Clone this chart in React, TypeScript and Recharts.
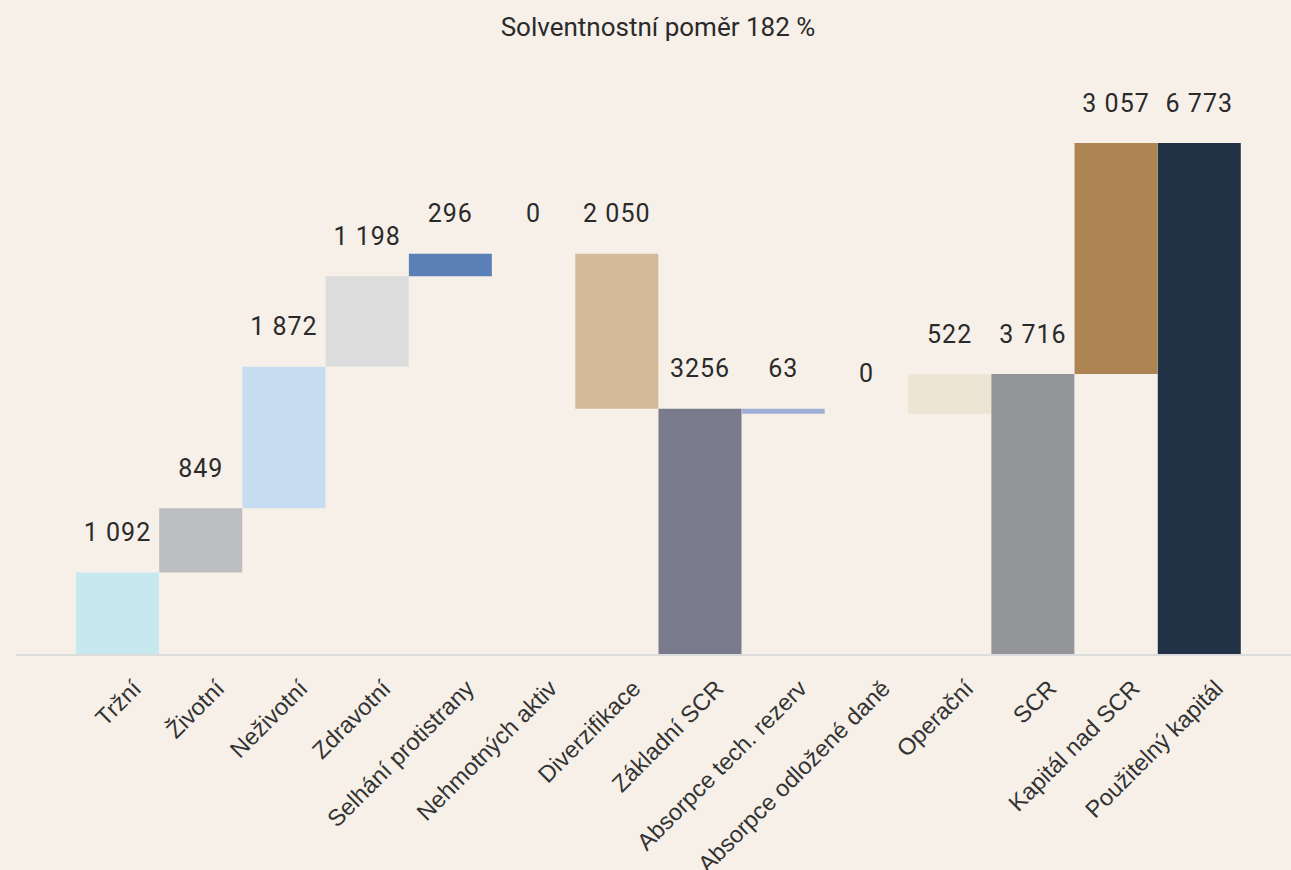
import { Bar, BarChart, Cell, LabelList, XAxis, YAxis } from "recharts";

const categories = [
  "Tržní",
  "Životní",
  "Neživotní",
  "Zdravotní",
  "Selhání protistrany",
  "Nehmotných aktiv",
  "Diverzifikace",
  "Základní SCR",
  "Absorpce tech. rezerv",
  "Absorpce odložené daně",
  "Operační",
  "SCR",
  "Kapitál nad SCR",
  "Použitelný kapitál",
];

// amounts as shown above each bar
const amounts = [1092, 849, 1872, 1198, 296, 0, 2050, 3256, 63, 0, 522, 3716, 3057, 6773];

// inc = adds, dec = subtracts, total = drawn from zero
const kinds = [
  "inc", "inc", "inc", "inc", "inc", "inc", "dec",
  "total", "dec", "dec", "inc", "total", "inc", "total",
];

const valueLabels = [
  "1 092", "849", "1 872", "1 198", "296", "0", "2 050",
  "3256", "63", "0", "522", "3 716", "3 057", "6 773",
];

const barColors = [
  "#c7e8ef", "#bcbdc1", "#c6ddf1", "#dcdcdd", "#5b80b8", "transparent", "#d4b998",
  "#797b8c", "#9fb1d6", "transparent", "#ede4d3", "#949599", "#ae8453", "#213247",
];

const BG = "#f6f0e9";
const TEXT = "#2a2a2a";

function buildRows() {
  let running = 0;
  return categories.map((name, i) => {
    const v = amounts[i];
    let base = 0;
    if (kinds[i] === "inc") {
      base = running;
      running += v;
    } else if (kinds[i] === "dec") {
      running -= v;
      base = running;
    } else {
      base = 0;
      running = v;
    }
    return {
      name,
      base,
      value: v,
      label: valueLabels[i],
      // zero bars draw no rect, so their label hangs on the base bar
      zeroLabel: v === 0 ? valueLabels[i] : "",
      color: barColors[i],
    };
  });
}

const rows = buildRows();

function AxisTick({ x, y, payload }: any) {
  return (
    <g transform={`translate(${x + 25},${y + 27})`}>
      <text
        textAnchor="end"
        transform="rotate(-45)"
        fontFamily="'Liberation Sans', Arial, sans-serif"
        fontSize={23.5}
        fill="#333"
      >
        {payload.value}
      </text>
    </g>
  );
}

function renderLabel(props: any) {
  const { x, y, width, value } = props;
  if (value === "" || value == null) return null;
  return (
    <text
      x={Number(x) + Number(width) / 2}
      y={Number(y) - 40}
      textAnchor="middle"
      dominantBaseline="central"
      fontFamily="Roboto, sans-serif"
      fontSize={25}
      letterSpacing={1}
      fill={TEXT}
    >
      {value}
    </text>
  );
}

export default function App() {
  return (
    <div
      style={{
        position: "fixed",
        left: 0,
        top: 0,
        width: 1291,
        height: 870,
        background: BG,
      }}
    >
      <div
        style={{
          position: "absolute",
          top: 12,
          left: 0,
          width: 1316,
          textAlign: "center",
          fontFamily: "Roboto, sans-serif",
          fontSize: 26,
          color: TEXT,
        }}
      >
        Solventnostní poměr 182 %
      </div>
      <BarChart
        width={1291}
        height={870}
        data={rows}
        margin={{ top: 143, right: 0, bottom: 0, left: 16 }}
        barCategoryGap={0}
        barGap={0}
      >
        <XAxis
          dataKey="name"
          interval={0}
          height={215}
          padding={{ left: 60, right: 50 }}
          axisLine={{ stroke: "#dcdcdc", strokeWidth: 2 }}
          tickLine={false}
          tick={<AxisTick />}
        />
        <YAxis hide domain={[0, 6773]} />
        <Bar dataKey="base" stackId="w" fill="transparent" isAnimationActive={false}>
          <LabelList dataKey="zeroLabel" content={renderLabel} />
        </Bar>
        <Bar dataKey="value" stackId="w" isAnimationActive={false}>
          {rows.map((r) => (
            <Cell key={r.name} fill={r.color} />
          ))}
          <LabelList dataKey="label" content={renderLabel} />
        </Bar>
      </BarChart>
    </div>
  );
}
